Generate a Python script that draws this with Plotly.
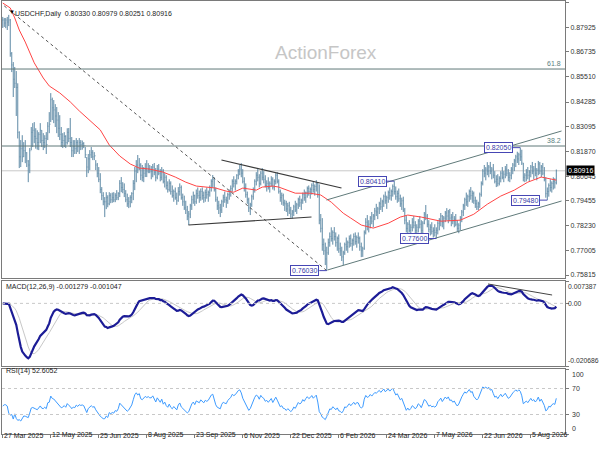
import numpy as np
import pandas as pd
import plotly.graph_objects as go
from plotly.subplots import make_subplots

# daily bars, prices in 1/10000
HIGH = [
    8845, 8840, 8840, 8845, 8855, 8835, 8673, 8624, 8600, 8580,
    8520, 8285, 8242, 8266, 8232, 8242, 8183, 8144, 8203, 8306,
    8325, 8330, 8300, 8290, 8281, 8325, 8291, 8276, 8266, 8281,
    8330, 8379, 8472, 8450, 8438, 8418, 8404, 8379, 8364, 8306,
    8276, 8281, 8266, 8300, 8301, 8350, 8257, 8242, 8242, 8252,
    8242, 8252, 8242, 8240, 8232, 8208, 8159, 8174, 8193, 8208,
    8193, 8183, 8144, 8130, 8110, 8080, 8012, 7987, 7963, 7987,
    7972, 7987, 7982, 7985, 7987, 7982, 7997, 7987, 8046, 8061,
    8036, 8030, 7997, 7980, 7963, 7972, 7987, 8046, 8110, 8144,
    8169, 8154, 8129, 8120, 8110, 8129, 8144, 8129, 8120,
    8115, 8125, 8130, 8105, 8120, 8125, 8100, 8110, 8100, 8080,
    8070, 8040, 8050, 8040, 8020, 8000, 8010, 7985, 8012, 8030,
    8020, 7980, 7970, 7945, 7920, 7895, 7930, 7970, 7990, 7975,
    8000, 8010, 7995, 8005, 8010, 7990, 8000, 8010, 7995, 8020,
    8050, 8071, 8060, 8010, 7965, 7945, 7930, 7950, 7975, 7990,
    7965, 7985, 8000, 8020, 8050, 8065, 8050, 8075, 8100, 8120,
    8129, 8100, 8060, 8030, 7990, 7960, 7935, 7975, 8010, 8050,
    8085, 8100, 8075, 8090, 8105, 8090, 8070, 8045, 8060, 8040,
    8065, 8060, 8050, 8080, 8085, 8050, 8000, 7985, 7980, 7950,
    7945, 7935, 7940, 7915, 7900,
    7925, 7945, 7935, 7960, 7970, 7955, 7985, 8000, 7990, 8015,
    8020, 8010, 8030, 8040, 8025, 8046, 8035, 8025, 7880, 7860,
    7760, 7740, 7720, 7760, 7790, 7815, 7800, 7816, 7790, 7770,
    7780, 7740, 7720, 7700, 7740, 7765, 7750, 7775, 7780, 7760,
    7785, 7790, 7775, 7790, 7770, 7740, 7720, 7800, 7860, 7875,
    7850, 7870, 7890, 7880, 7910, 7930, 7915, 7940, 7960, 7950,
    7975, 7990, 7970, 7995, 8010, 8000, 8025, 8041, 8015, 7995,
    8005, 7975, 7960, 7965, 7910, 7870, 7840, 7850, 7830, 7860,
    7870, 7845, 7830, 7855, 7870, 7850, 7845, 7890, 7924, 7880,
    7850, 7830, 7840, 7815, 7830, 7815, 7845,
    7860, 7885, 7875, 7870, 7895, 7909, 7900, 7905, 7880, 7890,
    7870, 7880, 7850, 7835, 7870, 7900, 7930, 7960, 7985, 7975,
    8000, 8012, 7995, 7990, 7965, 7950, 7940, 7985, 8040, 8100,
    8120, 8110, 8134, 8120, 8135, 8110, 8125, 8090, 8070, 8075,
    8065, 8090, 8110, 8090, 8115, 8125, 8100, 8085, 8110, 8130,
    8150, 8170, 8185, 8180, 8205, 8195, 8130, 8080, 8100, 8110,
    8095, 8120, 8135, 8115, 8130, 8105, 8140, 8135, 8120, 8130,
    8110, 8060, 8010, 8030, 8050, 8040, 8060, 8055, 8098,
]
LOW = [
    8791, 8796, 8790, 8781, 8800, 8650, 8575, 8453, 8497, 8360,
    8250, 8105, 8110, 8134, 8159, 8129, 8110, 8036, 8080, 8193,
    8208, 8227, 8200, 8195, 8193, 8227, 8208, 8193, 8203, 8174,
    8242, 8276, 8330, 8340, 8325, 8306, 8276, 8257, 8242, 8208,
    8203, 8208, 8203, 8220, 8232, 8208, 8159, 8159, 8174, 8174,
    8183, 8174, 8193, 8195, 8203, 8154, 8061, 8080, 8095, 8154,
    8144, 8144, 8095, 8060, 8036, 7982, 7948, 7923, 7865, 7904,
    7913, 7923, 7933, 7935, 7938, 7938, 7948, 7948, 7963, 7987,
    7982, 7963, 7938, 7915, 7909, 7913, 7933, 7948, 7997, 8036,
    8080, 8095, 8046, 8040, 8036, 8061, 8061, 8080, 8080,
    8050, 8060, 8070, 8040, 8050, 8070, 8040, 8045, 8030, 8010,
    8000, 7985, 7990, 7975, 7960, 7940, 7950, 7925, 7940, 7970,
    7950, 7920, 7900, 7880, 7850, 7826, 7860, 7900, 7930, 7920,
    7930, 7955, 7935, 7945, 7950, 7935, 7940, 7955, 7940, 7965,
    7990, 8010, 7990, 7940, 7900, 7880, 7865, 7885, 7915, 7935,
    7910, 7930, 7950, 7965, 7990, 8010, 7995, 8025, 8050, 8070,
    8060, 8030, 7990, 7960, 7930, 7890, 7875, 7915, 7950, 7985,
    8020, 8040, 8010, 8020, 8045, 8030, 8010, 7990, 8000, 7985,
    8015, 8000, 7995, 8025, 8030, 7980, 7940, 7925, 7920, 7895,
    7890, 7870, 7880, 7862, 7858,
    7870, 7890, 7880, 7905, 7915, 7900, 7930, 7945, 7935, 7960,
    7970, 7955, 7975, 7985, 7970, 7990, 7960, 7830, 7790, 7700,
    7680, 7630, 7603, 7680, 7720, 7745, 7730, 7750, 7720, 7700,
    7690, 7675, 7650, 7630, 7680, 7700, 7690, 7715, 7720, 7700,
    7725, 7730, 7715, 7735, 7700, 7669, 7670, 7705, 7780, 7800,
    7790, 7810, 7830, 7815, 7850, 7870, 7855, 7880, 7900, 7890,
    7915, 7930, 7905, 7935, 7950, 7945, 7965, 7975, 7950, 7935,
    7940, 7915, 7900, 7890, 7830, 7790, 7780, 7790, 7785, 7795,
    7810, 7785, 7770, 7790, 7810, 7780, 7785, 7830, 7850, 7815,
    7790, 7775, 7780, 7765, 7770, 7760, 7780,
    7800, 7820, 7815, 7805, 7840, 7850, 7835, 7845, 7820, 7830,
    7815, 7820, 7795, 7786, 7800, 7840, 7870, 7900, 7920, 7915,
    7940, 7950, 7935, 7930, 7910, 7900, 7899, 7910, 7965, 8020,
    8060, 8045, 8070, 8060, 8075, 8050, 8055, 8030, 8012, 8015,
    8020, 8035, 8050, 8036, 8055, 8065, 8040, 8036, 8050, 8075,
    8090, 8110, 8130, 8120, 8140, 8120, 8040, 8036, 8040, 8050,
    8040, 8060, 8075, 8050, 8065, 8045, 8070, 8075, 8060, 8070,
    8040, 7960, 7948, 7965, 7990, 7985, 8000, 8005, 8025,
]
CLOSE = [
    8830, 8815, 8830, 8820, 8830, 8665, 8610, 8540, 8520, 8500,
    8280, 8160, 8200, 8160, 8190, 8180, 8140, 8120, 8190, 8280,
    8290, 8260, 8250, 8230, 8270, 8290, 8240, 8230, 8250, 8220,
    8310, 8320, 8440, 8400, 8390, 8360, 8340, 8300, 8270, 8230,
    8240, 8260, 8230, 8280, 8250, 8230, 8190, 8210, 8200, 8230,
    8210, 8230, 8220, 8225, 8215, 8170, 8110, 8150, 8170, 8180,
    8160, 8165, 8120, 8080, 8050, 8000, 7970, 7940, 7940, 7960,
    7930, 7970, 7950, 7960, 7950, 7970, 7960, 7980, 8030, 8010,
    8000, 7980, 7950, 7930, 7940, 7960, 7980, 8030, 8090, 8120,
    8100, 8120, 8070, 8060, 8080, 8100, 8090, 8100, 8090,
    8090, 8110, 8085, 8060, 8100, 8080, 8060, 8090, 8040, 8060,
    8020, 8000, 8030, 7990, 7970, 7990, 7960, 7945, 7990, 8010,
    7960, 7940, 7910, 7900, 7870, 7880, 7920, 7950, 7970, 7940,
    7980, 7970, 7960, 7990, 7970, 7960, 7985, 7975, 7985, 8010,
    8040, 8050, 8000, 7950, 7920, 7910, 7900, 7940, 7960, 7950,
    7945, 7975, 7990, 8005, 8040, 8030, 8040, 8070, 8090, 8100,
    8080, 8040, 8010, 7975, 7950, 7910, 7925, 7965, 8000, 8040,
    8070, 8060, 8030, 8080, 8060, 8050, 8020, 8030, 8010, 8030,
    8050, 8010, 8040, 8070, 8040, 7990, 7960, 7970, 7935, 7930,
    7905, 7920, 7900, 7880, 7890,
    7915, 7900, 7925, 7950, 7935, 7945, 7975, 7960, 7985, 8005,
    7990, 8000, 8020, 8000, 8015, 8030, 7975, 7850, 7810, 7730,
    7700, 7660, 7690, 7740, 7770, 7760, 7790, 7770, 7740, 7760,
    7710, 7700, 7670, 7690, 7730, 7720, 7740, 7760, 7735, 7750,
    7770, 7745, 7765, 7760, 7720, 7700, 7710, 7790, 7840, 7820,
    7830, 7860, 7845, 7870, 7895, 7890, 7905, 7930, 7915, 7940,
    7965, 7945, 7960, 7985, 7970, 7990, 8015, 7990, 7965, 7980,
    7955, 7930, 7945, 7900, 7850, 7810, 7830, 7800, 7815, 7840,
    7825, 7800, 7815, 7845, 7830, 7800, 7835, 7880, 7870, 7830,
    7805, 7815, 7795, 7800, 7790, 7800, 7835,
    7850, 7870, 7840, 7860, 7885, 7870, 7890, 7860, 7865, 7845,
    7855, 7830, 7810, 7825, 7860, 7890, 7920, 7950, 7940, 7965,
    7990, 7970, 7980, 7945, 7930, 7915, 7930, 7975, 8030, 8090,
    8080, 8100, 8090, 8110, 8090, 8100, 8070, 8040, 8050, 8030,
    8055, 8080, 8060, 8075, 8100, 8080, 8060, 8070, 8100, 8120,
    8140, 8160, 8150, 8170, 8160, 8130, 8060, 8070, 8085, 8070,
    8085, 8110, 8090, 8100, 8080, 8095, 8125, 8090, 8110, 8080,
    8050, 7980, 7990, 8020, 8010, 8030, 8040, 8033, 8092,
]

# red moving average, read at a few bars
MA_BARS = [0, 5, 8, 11, 15, 18, 21, 27, 31, 38, 45, 51, 58, 65, 71, 78, 85, 91, 98, 107,
           115, 122, 129, 135, 142, 149, 154, 160, 169, 173, 180, 184, 189, 195, 205, 212, 219, 227, 232, 239,
           247, 257, 265, 270, 279, 292, 305, 314, 323, 332, 341, 350, 359, 365, 369]
MA_VALS = [8913, 8889, 8840, 8781, 8722, 8668, 8620, 8546, 8507, 8473, 8429, 8385, 8340, 8292, 8218, 8164, 8125, 8105, 8100, 8085,
           8061, 8036, 8017, 8012, 8007, 7992, 7987, 8007, 7997, 8012, 8017, 8012, 7997, 7982, 7982, 7973, 7938, 7884, 7860, 7826,
           7811, 7835, 7865, 7875, 7865, 7845, 7850, 7879, 7928, 7968, 7997, 8036, 8061, 8051, 8046]

# RSI over the first 14 bars (no earlier history to compute it from)
RSI_HEAD = [43, 45, 45, 43, 32, 29, 30, 23, 31, 24, 21, 22, 20, 25]

PRICE_TICKS = [0.89150, 0.87925, 0.86735, 0.85510, 0.84285, 0.83095, 0.81870,
               0.80645, 0.79455, 0.78230, 0.77005, 0.75815]
DATE_TICKS = [0, 32, 64, 96, 128, 160, 192, 224, 256, 288, 320, 352]
DATE_LABELS = ["27 Mar 2025", "12 May 2025", "25 Jun 2025", "8 Aug 2025", "23 Sep 2025",
               "6 Nov 2025", "22 Dec 2025", "6 Feb 2026", "24 Mar 2026", "7 May 2026",
               "22 Jun 2026", "5 Aug 2026"]

SWING_BARS = [216, 261, 289, 345, 363]
SWING_PRICES = [0.76030, 0.80410, 0.77600, 0.82050, 0.79480]

FIB_LEVELS = [0.85899, 0.82131]
FIB_NAMES = ["61.8", "38.2"]
LAST_PRICE = 0.80916
MACD_MIN, MACD_MAX = -0.020686, 0.007387

# trendlines: (bar0, price0, bar1, price1)
DASHED_LINE = (1, 0.88990, 216, 0.76030)
TRI_UPPER = (145.8, 0.81445, 225.8, 0.80075)
TRI_LOWER = (123.8, 0.78263, 205.8, 0.78655)
CH_UPPER = (215.8, 0.79487, 372.5, 0.82865)
CH_LOWER = (216.5, 0.76060, 372.5, 0.79438)
MACD_LINE = (323.5, 0.00640, 366.2, 0.00276)

assert len(HIGH) == len(LOW) == len(CLOSE) == 370

high = np.array(HIGH) / 1e4
low = np.array(LOW) / 1e4
close = np.array(CLOSE) / 1e4
opn = np.r_[close[0], close[:-1]]
idx = np.arange(len(close))

s = pd.Series(close)
macd = s.ewm(span=12, adjust=False).mean() - s.ewm(span=26, adjust=False).mean()
signal = macd.rolling(9, min_periods=1).mean()

# Wilder RSI(14), carried on from the last read value
chg = np.diff(close)
gain, loss = np.clip(chg, 0, None), np.clip(-chg, 0, None)
k = len(RSI_HEAD)
m = np.abs(chg[:k - 1]).mean()
ag, al = m * RSI_HEAD[-1] / 100, m * (1 - RSI_HEAD[-1] / 100)
rsi = list(RSI_HEAD)
for i in range(k, len(close)):
    ag = (ag * 13 + gain[i - 1]) / 14
    al = (al * 13 + loss[i - 1]) / 14
    rsi.append(100 - 100 / (1 + ag / al))

BAR = "#5f8aa6"
FONT = "Liberation Sans, Arial, sans-serif"
W, H_PLOT = 563, 434


def px(x):
    return (x - 2) / W


def py(y):
    return (H_PLOT - y) / H_PLOT


fig = make_subplots(rows=3, cols=1, shared_xaxes=True)
fig.add_trace(go.Ohlc(x=idx, open=opn, high=high, low=low, close=close,
                      increasing=dict(line=dict(color=BAR, width=1)),
                      decreasing=dict(line=dict(color=BAR, width=1)),
                      tickwidth=0.3, hoverinfo="skip", showlegend=False), row=1, col=1)
fig.add_trace(go.Scatter(x=MA_BARS, y=np.array(MA_VALS) / 1e4, mode="lines",
                         line=dict(color="#ff4545", width=1), showlegend=False), row=1, col=1)
fig.add_trace(go.Scatter(x=idx, y=signal, mode="lines", line=dict(color="#c8c8c8", width=1),
                         showlegend=False), row=2, col=1)
fig.add_trace(go.Scatter(x=idx, y=macd, mode="lines", line=dict(color="#1c1c96", width=2.2),
                         showlegend=False), row=2, col=1)
fig.add_trace(go.Scatter(x=idx, y=rsi, mode="lines", line=dict(color="#3d9bff", width=1),
                         showlegend=False), row=3, col=1)

axis = dict(showgrid=False, zeroline=False, showline=True, mirror=True,
            linecolor="#7a7a7a", linewidth=1)
for r in (1, 2, 3):
    fig.update_xaxes(range=[-0.5, 374.8], showticklabels=False, rangeslider_visible=False,
                     row=r, col=1, **axis)
fig.update_xaxes(tickvals=DATE_TICKS, ticks="outside", ticklen=3, tickcolor="#7a7a7a", row=3, col=1)

fig.update_yaxes(side="right", range=[0.75668, 0.89230], tickvals=PRICE_TICKS,
                 ticktext=[f"{v:.5f}" for v in PRICE_TICKS], ticks="outside", ticklen=3,
                 tickcolor="#7a7a7a", tickfont=dict(size=7, color="#333"), row=1, col=1, **axis)
fig.update_yaxes(side="right", range=[MACD_MIN, MACD_MAX], tickvals=[MACD_MAX, 0, MACD_MIN],
                 showticklabels=False, ticks="outside", ticklen=3, tickcolor="#7a7a7a",
                 row=2, col=1, **axis)
fig.update_yaxes(side="right", range=[0, 100], tickvals=[100, 70, 30, 0],
                 showticklabels=False, ticks="outside", ticklen=3, tickcolor="#7a7a7a",
                 row=3, col=1, **axis)

fig.update_layout(
    width=600, height=450, margin=dict(l=2, r=35, t=0, b=16),
    paper_bgcolor="white", plot_bgcolor="white",
    font=dict(family=FONT, size=7, color="#333"),
    yaxis=dict(domain=[py(278), py(1)]),
    yaxis2=dict(domain=[py(366), py(281)]),
    yaxis3=dict(domain=[0, py(369)]),
)

shapes = []
# horizontal levels
shapes.append(dict(type="line", xref="paper", yref="y", x0=0, x1=1, y0=LAST_PRICE, y1=LAST_PRICE,
                   line=dict(color="#c8c8c8", width=1), layer="below"))
for lv in FIB_LEVELS:
    shapes.append(dict(type="line", xref="paper", yref="y", x0=0, x1=1, y0=lv, y1=lv,
                       line=dict(color="#5f7878", width=1)))
# trendlines
for seg, col, dash, wd in [(DASHED_LINE, "#555555", "3px,3px", 1),
                           (TRI_UPPER, "#3a3a3a", "solid", 1.2),
                           (TRI_LOWER, "#3a3a3a", "solid", 1.2),
                           (CH_UPPER, "#607a7a", "solid", 1),
                           (CH_LOWER, "#607a7a", "solid", 1)]:
    shapes.append(dict(type="line", xref="x", yref="y", x0=seg[0], y0=seg[1], x1=seg[2], y1=seg[3],
                       line=dict(color=col, width=wd, dash=dash)))
shapes.append(dict(type="line", xref="x", yref="y2", x0=MACD_LINE[0], y0=MACD_LINE[1],
                   x1=MACD_LINE[2], y1=MACD_LINE[3], line=dict(color="#444", width=1)))
# dotted guide levels
shapes.append(dict(type="line", xref="paper", yref="y2", x0=0, x1=1, y0=0, y1=0,
                   line=dict(color="#c8c8c8", width=1, dash="dot")))
for lv in (70, 30):
    shapes.append(dict(type="line", xref="paper", yref="y3", x0=0, x1=1, y0=lv, y1=lv,
                       line=dict(color="#c8c8c8", width=1, dash="dot")))
# swing label connectors
for b, p in zip(SWING_BARS, SWING_PRICES):
    shapes.append(dict(type="line", xref="x", yref="y", x0=b - 5, x1=b, y0=p, y1=p,
                       line=dict(color="#4646b4", width=1)))

ann = []
ann.append(dict(text="▼", x=px(7), y=py(7), xref="paper", yref="paper", showarrow=False,
                font=dict(size=6, color="black")))
ann.append(dict(text="USDCHF,Daily\u00a0\u00a00.80330 0.80979 0.80251 0.80916", x=px(13), y=py(8),
                xref="paper", yref="paper", xanchor="left", showarrow=False,
                font=dict(size=7, color="#222")))
ann.append(dict(text="ActionForex", x=px(326), y=py(40), xref="paper", yref="paper",
                showarrow=False, font=dict(size=19, color="#c6c6c6")))
ann.append(dict(text="MACD(12,26,9) -0.001279 -0.001047", x=px(4), y=py(287), xref="paper",
                yref="paper", xanchor="left", showarrow=False, font=dict(size=7, color="#222")))
ann.append(dict(text="RSI(14) 52.6052", x=px(4), y=py(377), xref="paper", yref="paper",
                xanchor="left", showarrow=False, font=dict(size=7, color="#222")))
for lv, name in zip(FIB_LEVELS, FIB_NAMES):
    ann.append(dict(text=name, x=1, y=lv, xref="paper", yref="y", xanchor="right", yanchor="bottom",
                    xshift=-2, showarrow=False, font=dict(size=7, color="#5a8080")))
for b, p in zip(SWING_BARS, SWING_PRICES):
    ann.append(dict(text=f"{p:.5f}", x=b - 5, y=p, xref="x", yref="y", xanchor="right",
                    showarrow=False, bgcolor="white", bordercolor="#4646b4", borderwidth=1,
                    borderpad=1, font=dict(size=7, color="#3a3aa8")))
ann.append(dict(text=f"{LAST_PRICE:.5f}", x=1, y=LAST_PRICE, xref="paper", yref="y", xanchor="left",
                xshift=1, showarrow=False, bgcolor="black", borderpad=1,
                font=dict(size=7, color="white")))
for val, txt, anc in [(MACD_MAX, f"{MACD_MAX:.6f}", "top"), (0, "0.00", "middle"),
                      (MACD_MIN, f"{MACD_MIN:.6f}", "bottom")]:
    ann.append(dict(text=txt, x=1, y=val, xref="paper", yref="y2", xanchor="left", yanchor=anc,
                    xshift=1, showarrow=False, font=dict(size=6.8, color="#333")))
for val, anc in [(100, "top"), (70, "middle"), (30, "middle"), (0, "bottom")]:
    ann.append(dict(text=str(val), x=1, y=val, xref="paper", yref="y3", xanchor="left", yanchor=anc,
                    xshift=5, showarrow=False, font=dict(size=7, color="#333")))
for t, lab in zip(DATE_TICKS, DATE_LABELS):
    ann.append(dict(text=lab, x=t - 0.5, y=py(441), xref="x3", yref="paper", xanchor="left",
                    showarrow=False, font=dict(size=7, color="#222")))

fig.update_layout(shapes=shapes, annotations=ann)
# drop the page's default body margin so the figure sits at the window's top-left corner
fig.write_html("out.html", config={"displayModeBar": False},
               post_script="document.body.style.margin='0';")
